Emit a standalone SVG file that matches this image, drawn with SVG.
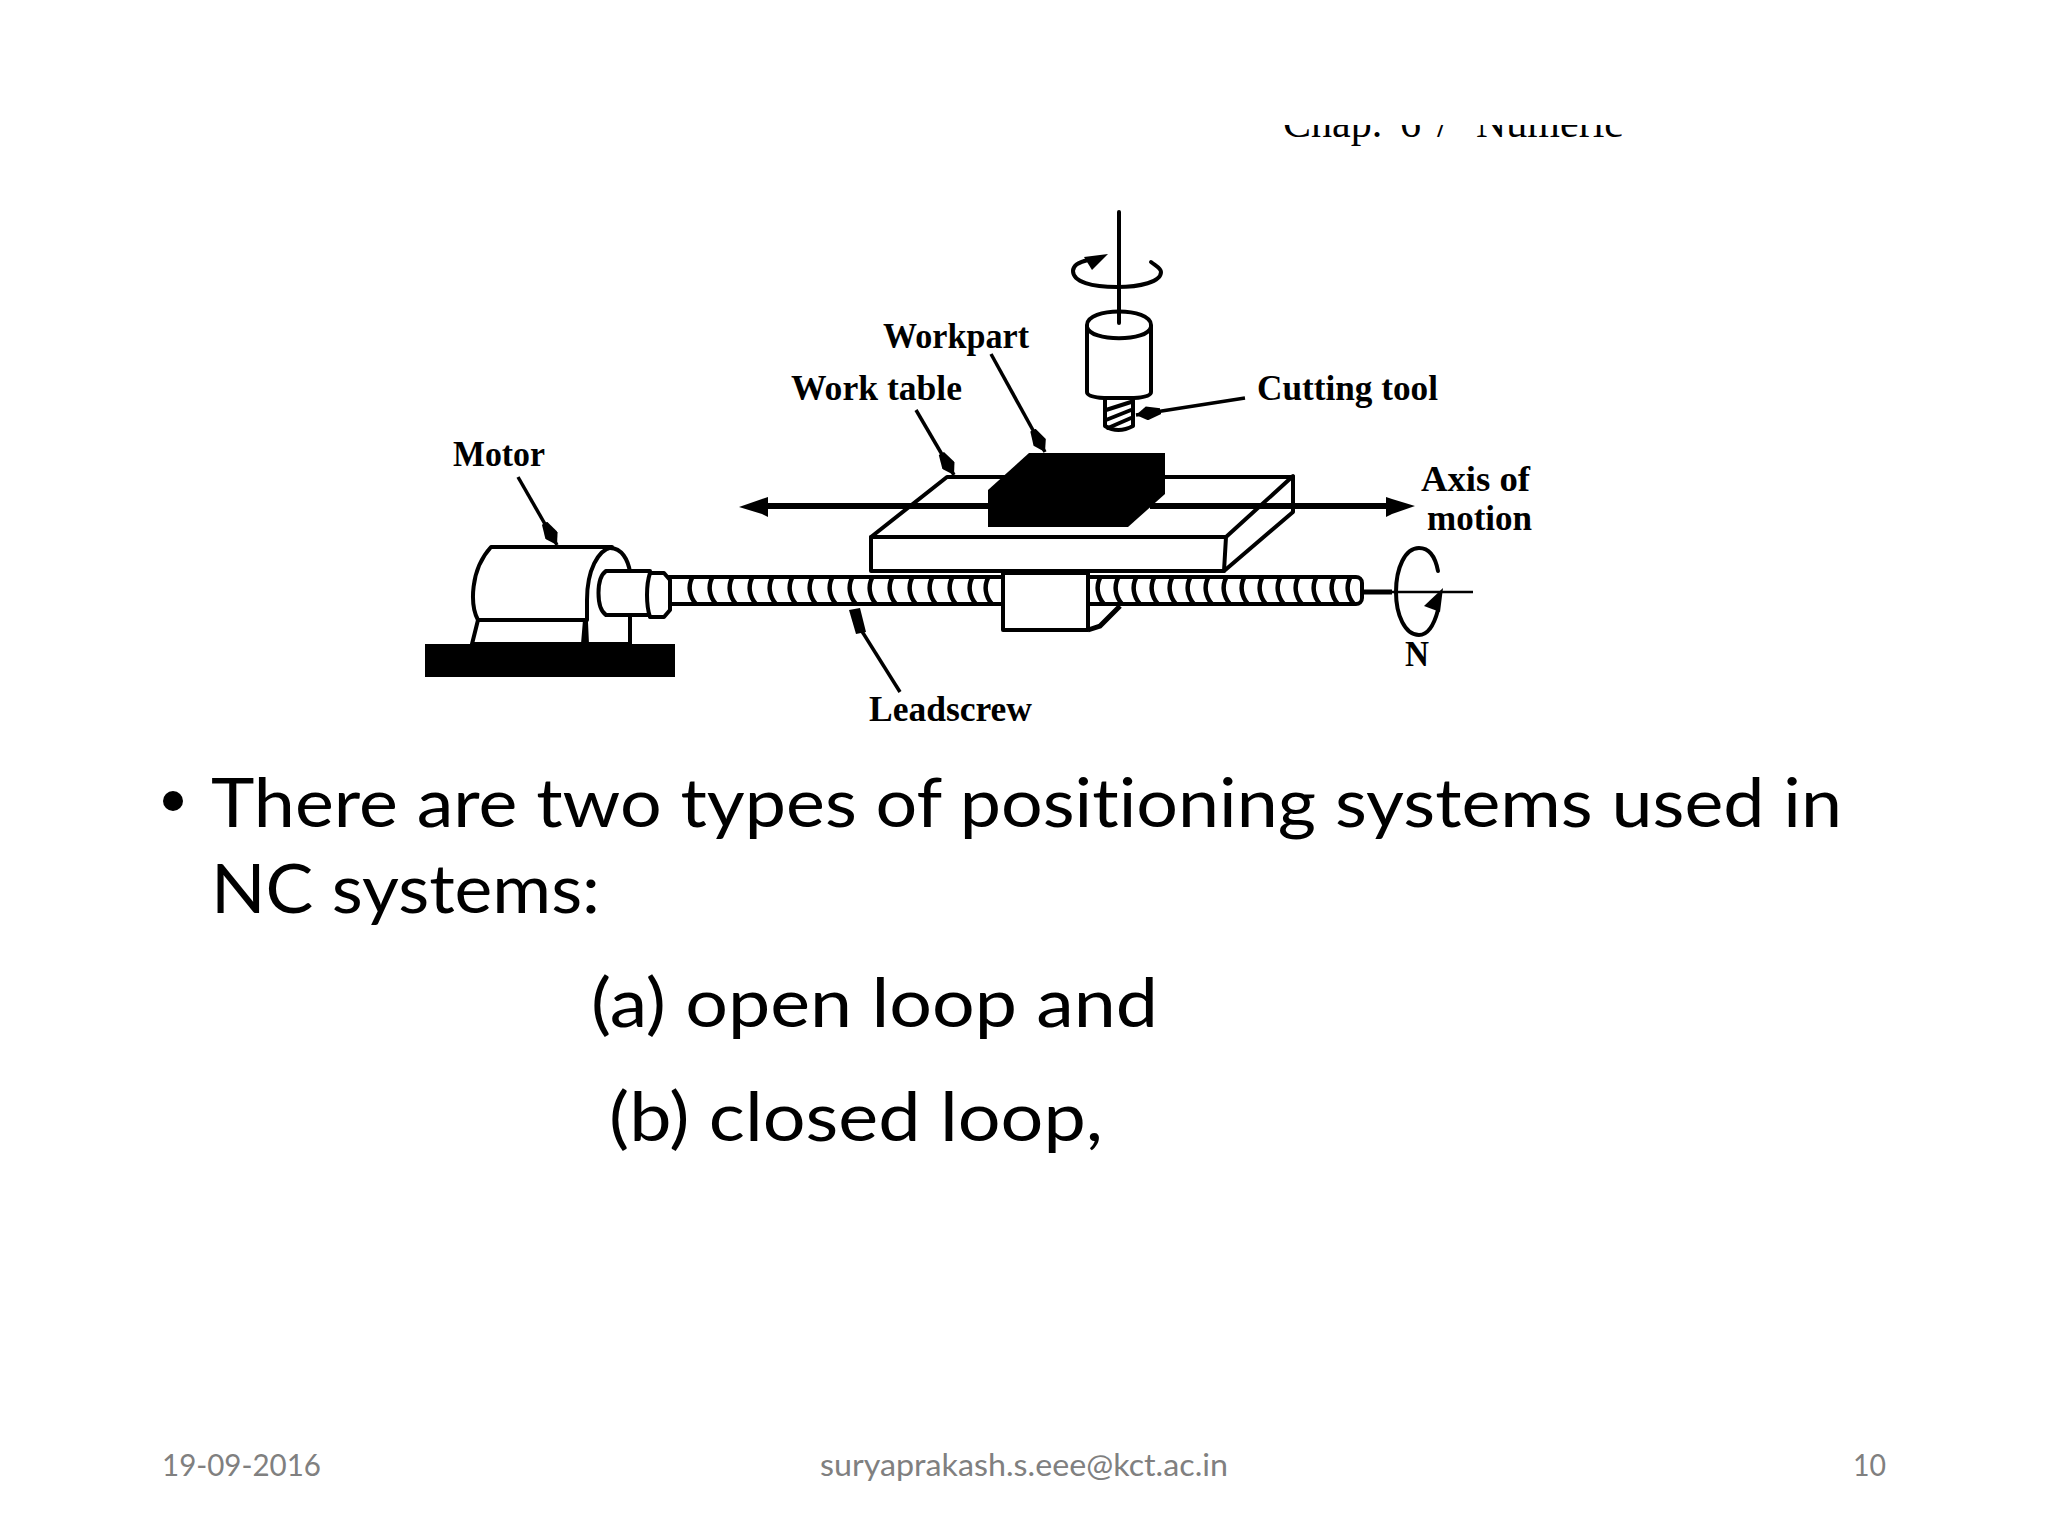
<svg xmlns="http://www.w3.org/2000/svg" width="2048" height="1536" viewBox="0 0 2048 1536">
<style>
.ol{fill:#fff;stroke:#000;stroke-width:4;stroke-linejoin:round}
.ln{fill:none;stroke:#000;stroke-width:4;stroke-linecap:round;stroke-linejoin:round}
.lead{fill:none;stroke:#000;stroke-width:3.5;marker-end:url(#ah)}
.lb{font-family:"Liberation Serif",serif;font-weight:bold;font-size:35px;fill:#000}
.main{font-family:Lato,"Liberation Sans",sans-serif;font-size:68px;fill:#000;font-variant-ligatures:none}
.foot{font-family:Lato,"Liberation Sans",sans-serif;font-size:31px;fill:#808080;font-variant-ligatures:none}
</style>
<defs>
<marker id="ah" markerUnits="userSpaceOnUse" markerWidth="26" markerHeight="14" refX="25" refY="7" orient="auto"><path d="M0,4 L14,0 L25,7 L14,14 L0,10Z" fill="#000"/></marker>
<path id="th" d="M0,578 C-4,586 -3,596 4,604" fill="none" stroke="#000" stroke-width="4.5"/>
<clipPath id="topclip"><rect x="1270" y="125" width="352" height="25"/></clipPath>
</defs>
<rect width="2048" height="1536" fill="#fff"/>
<text id="chap" clip-path="url(#topclip)" y="137" font-family="'Liberation Serif',serif" font-size="42" fill="#000"><tspan x="1283">Chap. </tspan><tspan x="1400">6 </tspan><tspan x="1437">/ </tspan><tspan x="1476">Numeric</tspan></text>

<g id="connectors">
<path id="axis-of-motion" d="M760,506 H1395" fill="none" stroke="#000" stroke-width="6"/>
<path d="M739,507 L762,499 L768,497 V517 L762,514Z" fill="#000"/>
<path d="M1415,506 L1392,499 L1386,497 V517 L1392,514Z" fill="#000"/>
<path class="lead" d="M518,477 L557,545"/>
<path class="lead" d="M916,410 L954,475"/>
<path class="lead" d="M991,354 L1045,452"/>
<path class="lead" d="M1245,398 L1136,415"/>
<path d="M900,692 L858,625" fill="none" stroke="#000" stroke-width="3.5"/>
<path d="M849,610 L860,608 L866,632 L856,634Z" fill="#000"/>
</g>

<g id="motor">
<path class="ol" d="M478,620 L472,644 H583 L585,620Z"/>
<path class="ol" d="M587,644 L585,600 C585,570 595,548 610,548 C622,548 628,560 630,572 L630,644Z"/>
<path class="ol" d="M491,547 H612 C598,550 587,570 587,600 V620 H478 C470,605 470,570 491,547Z"/>
<path d="M425,644 H675 V677 H425Z" fill="#000"/>
</g>

<g id="leadscrew">
<rect class="ol" x="660" y="577" width="702" height="27" rx="6"/>
<use href="#th" x="692"/><use href="#th" x="712"/><use href="#th" x="732"/><use href="#th" x="752"/><use href="#th" x="772"/><use href="#th" x="792"/><use href="#th" x="812"/><use href="#th" x="832"/><use href="#th" x="852"/><use href="#th" x="872"/><use href="#th" x="892"/><use href="#th" x="912"/><use href="#th" x="932"/><use href="#th" x="952"/><use href="#th" x="972"/><use href="#th" x="988"/>
<use href="#th" x="1100"/><use href="#th" x="1118"/><use href="#th" x="1136"/><use href="#th" x="1154"/><use href="#th" x="1172"/><use href="#th" x="1190"/><use href="#th" x="1208"/><use href="#th" x="1226"/><use href="#th" x="1244"/><use href="#th" x="1262"/><use href="#th" x="1280"/><use href="#th" x="1298"/><use href="#th" x="1316"/><use href="#th" x="1334"/><use href="#th" x="1350"/>
<path class="ol" d="M650,571 H606 C596,578 596,608 606,615 H650Z"/>
<path class="ol" d="M650,573 H664 L670,580 V610 L664,617 H650 C646,605 646,585 650,573Z"/>
<path d="M1362,592 H1392" fill="none" stroke="#000" stroke-width="5"/>
<path d="M1392,592 H1473" fill="none" stroke="#000" stroke-width="2.5"/>
</g>

<g id="nut">
<path class="ol" d="M1003,573 H1088 V630 H1003Z"/>
<path d="M1088,630 L1100,626 L1120,606" fill="none" stroke="#000" stroke-width="5"/>
<path d="M1088,577 V628" fill="none" stroke="#000" stroke-width="4" stroke-dasharray="4 3"/>
</g>

<g id="work-table">
<path class="ol" d="M871,537 L947,477 H1293 V512 L1224,571 H871Z"/>
<path class="ln" d="M871,537 H1226 L1293,476 M1226,537 L1224,571"/>
<path d="M760,506 H1000 M1150,506 H1395" fill="none" stroke="#000" stroke-width="6"/>
</g>

<g id="workpart">
<path d="M1029,453 H1165 V494 L1128,527 H988 V490Z" fill="#000"/>
</g>

<g id="cutting-tool">
<path class="ln" d="M1119,212 V323" stroke-width="3"/>
<path class="ln" d="M1151,262 C1156,266 1161,268 1161,272 C1161,282 1140,287 1117,287 C1092,287 1073,282 1073,271 C1073,266 1079,262 1088,260"/>
<path d="M1108,254 L1084,257 L1092,270Z" fill="#000"/>
<path class="ol" d="M1087,325 C1087,307 1151,307 1151,325 V392 Q1151,397 1134,398 H1104 Q1087,397 1087,392Z"/>
<path class="ln" d="M1087,327 C1090,342 1148,342 1151,327"/>
<path class="ln" d="M1119,290 V323" stroke-width="3"/>
<path class="ol" d="M1105,398 V426 Q1118,434 1133,426 V398Z"/>
<path class="ln" d="M1106,410 L1131,402 M1106,420 L1131,410 M1108,428 L1131,418" stroke-width="3"/>
</g>

<g id="rotation-n">
<path class="ln" d="M1438,571 C1435,555 1428,548 1419,548 C1405,548 1396,568 1396,592 C1396,615 1405,635 1419,635 C1428,635 1434,625 1438,610"/>
<path d="M1443,588 L1440,612 L1424,606Z" fill="#000"/>
</g>

<g id="labels">
<text class="lb" x="453" y="466" textLength="92" lengthAdjust="spacingAndGlyphs">Motor</text>
<text class="lb" x="883" y="348" textLength="146" lengthAdjust="spacingAndGlyphs">Workpart</text>
<text class="lb" x="791" y="400" textLength="171" lengthAdjust="spacingAndGlyphs">Work table</text>
<text class="lb" x="1257" y="400" textLength="181" lengthAdjust="spacingAndGlyphs">Cutting tool</text>
<text class="lb" x="1421" y="491" textLength="109" lengthAdjust="spacingAndGlyphs">Axis of</text>
<text class="lb" x="1427" y="530" textLength="105" lengthAdjust="spacingAndGlyphs">motion</text>
<text class="lb" x="1405" y="666" textLength="24" lengthAdjust="spacingAndGlyphs">N</text>
<text class="lb" x="869" y="721" textLength="163" lengthAdjust="spacingAndGlyphs">Leadscrew</text>
</g>

<g id="body-text">
<circle cx="173" cy="801" r="10" fill="#000"/>
<text class="main" x="211" y="827" textLength="1631" lengthAdjust="spacingAndGlyphs">There are two types of positioning systems used in</text>
<text class="main" x="211" y="913" textLength="389" lengthAdjust="spacingAndGlyphs">NC systems:</text>
<text class="main" x="591" y="1027" textLength="567" lengthAdjust="spacingAndGlyphs">(a) open loop and</text>
<text class="main" x="609" y="1141" textLength="494" lengthAdjust="spacingAndGlyphs">(b) closed loop,</text>
</g>

<g id="footer">
<text class="foot" x="162" y="1476" textLength="159" lengthAdjust="spacingAndGlyphs">19-09-2016</text>
<text class="foot" x="820" y="1476" textLength="408" lengthAdjust="spacingAndGlyphs">suryaprakash.s.eee@kct.ac.in</text>
<text class="foot" x="1853" y="1476" textLength="33" lengthAdjust="spacingAndGlyphs">10</text>
</g>
</svg>
